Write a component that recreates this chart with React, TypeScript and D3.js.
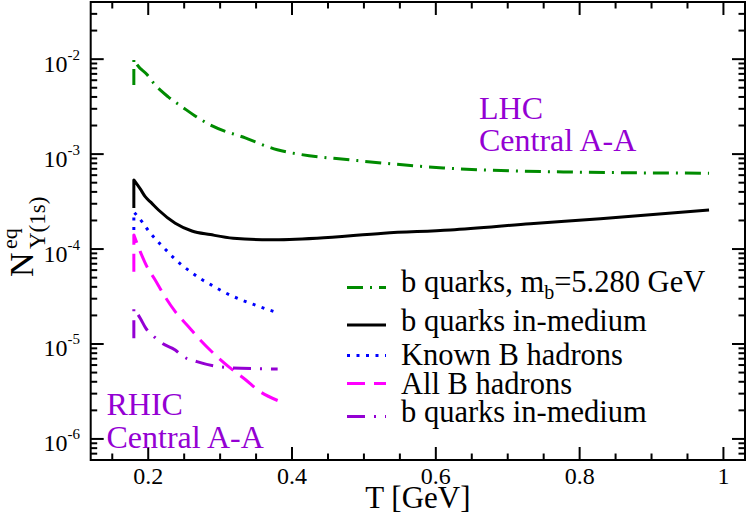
import React from 'react';
import * as d3 from 'd3';

const W = 747;
const H = 519;
const FONT = '"Liberation Serif", "Times New Roman", Times, serif';

// ---- axis ticks ----
const xMajorTicks = [0.2, 0.4, 0.6, 0.8, 1.0];
const xTickLabels = ['0.2', '0.4', '0.6', '0.8', '1'];
const xMinorTicks = [0.15, 0.25, 0.3, 0.35, 0.45, 0.5, 0.55, 0.65, 0.7, 0.75, 0.85, 0.9, 0.95];
const yExponents = [-2, -3, -4, -5, -6];
const yMinorMantissas = [2, 3, 4, 5, 6, 7, 8, 9];

// ---- data ----
// b quarks, m_b = 5.280 GeV (LHC)
const greenT = [0.18, 0.18, 0.1847, 0.1986, 0.2083, 0.2278, 0.2473, 0.2696, 0.289, 0.335, 0.3795, 0.4115, 0.481, 0.6104, 0.7773, 0.98];
const greenN = [5.36e-3, 1.0e-2, 8.71e-3, 6.84e-3, 5.5e-3, 4.01e-3, 3.14e-3, 2.4e-3, 1.98e-3, 1.48e-3, 1.11e-3, 9.93e-4, 8.69e-4, 7.16e-4, 6.49e-4, 6.29e-4];

// b quarks in-medium (LHC)
const blackT = [0.18, 0.18, 0.1889, 0.1958, 0.2042, 0.2143, 0.2376, 0.2608, 0.2863, 0.3183, 0.3697, 0.4347, 0.5274, 0.6201, 0.7314, 0.8288, 0.98];
const blackN = [2.71e-4, 5.35e-4, 4.3e-4, 3.56e-4, 3.08e-4, 2.58e-4, 1.87e-4, 1.55e-4, 1.42e-4, 1.3e-4, 1.25e-4, 1.3e-4, 1.47e-4, 1.59e-4, 1.85e-4, 2.09e-4, 2.58e-4];

// Known B hadrons (RHIC)
const blueT = [0.18, 0.18, 0.1921, 0.2014, 0.2121, 0.2237, 0.2352, 0.2477, 0.2598, 0.2737, 0.2876, 0.3016, 0.3164, 0.3317, 0.3465, 0.3624, 0.38];
const blueN = [1.59e-4, 2.46e-4, 1.91e-4, 1.52e-4, 1.23e-4, 9.96e-5, 8.12e-5, 6.68e-5, 5.7e-5, 4.81e-5, 4.19e-5, 3.65e-5, 3.21e-5, 2.87e-5, 2.61e-5, 2.36e-5, 2.14e-5];

// All B hadrons (RHIC)
const pinkT = [0.18, 0.18, 0.1889, 0.1982, 0.2097, 0.2209, 0.2376, 0.2561, 0.2723, 0.2932, 0.3117, 0.335, 0.3558, 0.38];
const pinkN = [5.78e-5, 1.41e-4, 9.4e-5, 6.53e-5, 4.72e-5, 3.37e-5, 2.19e-5, 1.52e-5, 1.1e-5, 7.66e-6, 5.77e-6, 4.23e-6, 3.14e-6, 2.54e-6];

// b quarks in-medium (RHIC)
const violetT = [0.18, 0.18, 0.1889, 0.1968, 0.2083, 0.2191, 0.2376, 0.2483, 0.2678, 0.2978, 0.329, 0.38];
const violetN = [1.15e-5, 2.38e-5, 1.87e-5, 1.46e-5, 1.19e-5, 1.02e-5, 8.65e-6, 7.42e-6, 6.51e-6, 5.77e-6, 5.55e-6, 5.46e-6];

const seriesLabels = ['b quarks, m', 'b quarks in-medium', 'Known B hadrons', 'All B hadrons', 'b quarks in-medium'];
const seriesColors = ['#008b00', '#000000', '#0000ff', '#ff00ff', '#9400d3'];
const seriesDash = ['16,7,2,7', 'none', '3,6.5', '18,9', '18,9,2,9'];

const series = [
  { t: greenT, n: greenN },
  { t: blackT, n: blackN },
  { t: blueT, n: blueN },
  { t: pinkT, n: pinkN },
  { t: violetT, n: violetN },
];

// legend layout
const legendLineY = [287.5, 325, 355.5, 383.5, 416.5];
const legendTextY = [292, 331, 365, 393.5, 422];

export default function App() {
  const left = 90.7, right = 745, top = 2, bottom = 460;
  const x = d3.scaleLinear().domain([0.12, 1.03]).range([left, right]);
  const y = d3.scaleLog().domain([6e-7, 0.04]).range([bottom, top]);

  const smooth = d3
    .line<[number, number]>()
    .x((d) => x(d[0]))
    .y((d) => y(d[1]))
    .curve(d3.curveMonotoneX);

  // vertical jump at the first temperature, then a smooth curve
  const buildPath = (t: number[], n: number[]) => {
    const pts = t.map((v, j) => [v, n[j]] as [number, number]);
    const head = `M${x(pts[0][0])},${y(pts[0][1])}`;
    const rest = (smooth(pts.slice(1)) || '').replace(/^M/, 'L');
    return head + rest;
  };

  const majorLen = 13;
  const minorLen = 6.5;

  const yMinor: number[] = [];
  for (let e = -7; e <= -1; e++) {
    for (const m of yMinorMantissas) {
      const v = m * Math.pow(10, e);
      if (v > 6e-7 && v < 0.04) yMinor.push(v);
    }
  }

  const tickStroke = { stroke: '#000', strokeWidth: 2 };

  return (
    <svg
      width={W}
      height={H}
      viewBox={`0 0 ${W} ${H}`}
      style={{ position: 'absolute', left: 0, top: 0, background: '#fff' }}
      fontFamily={FONT}
    >
      <rect x={0} y={0} width={W} height={H} fill="#fff" />

      {/* curves */}
      <g fill="none">
        {series.map((s, i) => (
          <path
            key={i}
            d={buildPath(s.t, s.n)}
            stroke={seriesColors[i]}
            strokeWidth={3}
            strokeDasharray={seriesDash[i]}
            strokeLinejoin="round"
          />
        ))}
      </g>

      {/* frame */}
      <rect x={left} y={top} width={right - left} height={bottom - top} fill="none" stroke="#000" strokeWidth={2} />

      {/* x ticks */}
      <g>
        {xMajorTicks.map((t) => (
          <g key={'xm' + t}>
            <line x1={x(t)} x2={x(t)} y1={bottom} y2={bottom - majorLen} {...tickStroke} />
            <line x1={x(t)} x2={x(t)} y1={top} y2={top + majorLen} {...tickStroke} />
          </g>
        ))}
        {xMinorTicks.map((t) => (
          <g key={'xn' + t}>
            <line x1={x(t)} x2={x(t)} y1={bottom} y2={bottom - minorLen} {...tickStroke} />
            <line x1={x(t)} x2={x(t)} y1={top} y2={top + minorLen} {...tickStroke} />
          </g>
        ))}
        {xMajorTicks.map((t, i) => (
          <text key={'xl' + t} x={x(t)} y={483.5} fontSize={24} textAnchor="middle" fill="#000">
            {xTickLabels[i]}
          </text>
        ))}
      </g>

      {/* y ticks */}
      <g>
        {yExponents.map((e) => {
          const v = Math.pow(10, e);
          return (
            <g key={'ym' + e}>
              <line x1={left} x2={left + majorLen} y1={y(v)} y2={y(v)} {...tickStroke} />
              <line x1={right} x2={right - majorLen} y1={y(v)} y2={y(v)} {...tickStroke} />
              <text x={80} y={y(v) + 12.5} fontSize={24} textAnchor="end" fill="#000">
                10
                <tspan fontSize={15} dy={-12}>
                  {'-' + Math.abs(e)}
                </tspan>
              </text>
            </g>
          );
        })}
        {yMinor.map((v, i) => (
          <g key={'yn' + i}>
            <line x1={left} x2={left + minorLen} y1={y(v)} y2={y(v)} {...tickStroke} />
            <line x1={right} x2={right - minorLen} y1={y(v)} y2={y(v)} {...tickStroke} />
          </g>
        ))}
      </g>

      {/* axis titles */}
      <text x={(left + right) / 2} y={508} fontSize={31} textAnchor="middle" fill="#000">
        T [GeV]
      </text>
      <g transform="translate(33,277) rotate(-90)">
        <text x={0} y={0} fontSize={34} fill="#000">N</text>
        <text x={28} y={-16} fontSize={22} fill="#000">eq</text>
        <text x={28} y={12} fontSize={23} fill="#000">Υ(1s)</text>
      </g>

      {/* annotations */}
      <g fill="#9400d3" fontSize={32}>
        <text x={479} y={119}>LHC</text>
        <text x={479} y={150.5}>Central A-A</text>
        <text x={106.5} y={415}>RHIC</text>
        <text x={106.5} y={448.3}>Central A-A</text>
      </g>

      {/* legend */}
      <g>
        {seriesLabels.map((lab, i) => (
          <g key={'lg' + i}>
            <line
              x1={347}
              x2={386}
              y1={legendLineY[i]}
              y2={legendLineY[i]}
              stroke={seriesColors[i]}
              strokeWidth={3}
              strokeDasharray={seriesDash[i] === 'none' ? undefined : seriesDash[i]}
            />
            <text x={401} y={legendTextY[i]} fontSize={30.5} fill="#000">
              {i === 0 ? (
                <>
                  {lab}
                  <tspan fontSize={20} dy={7}>b</tspan>
                  <tspan dy={-7}>=5.280 GeV</tspan>
                </>
              ) : (
                lab
              )}
            </text>
          </g>
        ))}
      </g>
    </svg>
  );
}
